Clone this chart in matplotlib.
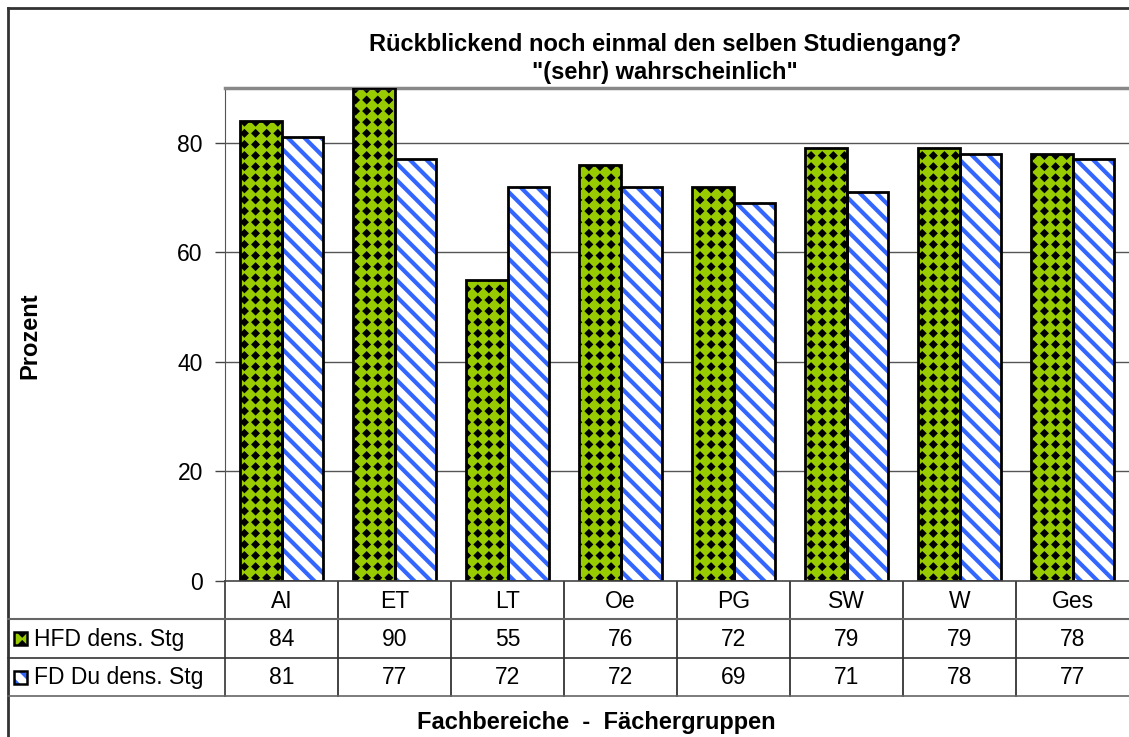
import matplotlib.pyplot as plt
import matplotlib.hatch as mhatch
from matplotlib.path import Path
import numpy as np

categories = ['AI', 'ET', 'LT', 'Oe', 'PG', 'SW', 'W', 'Ges']
series_names = ['HFD dens. Stg', 'FD Du dens. Stg']
hfd = [84, 90, 55, 76, 72, 79, 79, 78]
fddu = [81, 77, 72, 72, 69, 71, 78, 77]
y_ticks = [0, 20, 40, 60, 80]


# '.' hatch replaced by a square grid of filled diamonds (Excel "large confetti" look)
class DiamondGrid(mhatch.HatchPatternBase):
    def __init__(self, hatch, density):
        self.n = hatch.count('.') * 9
        self.num_vertices = (self.n + 1) ** 2 * 5 if self.n else 0

    def set_vertices_and_codes(self, vertices, codes):
        r = 0.14 / self.n
        diamond = np.array([[0, r], [r, 0], [0, -r], [-r, 0], [0, r]])
        k = 0
        for i in range(self.n + 1):
            for j in range(self.n + 1):
                vertices[k:k + 5] = diamond + [i / self.n, j / self.n]
                codes[k:k + 5] = [Path.MOVETO, Path.LINETO, Path.LINETO, Path.LINETO, Path.CLOSEPOLY]
                k += 5


mhatch._hatch_types = [DiamondGrid if h is mhatch.SmallFilledCircles else h for h in mhatch._hatch_types]

plt.rcParams['font.family'] = ['Liberation Sans', 'DejaVu Sans']
plt.rcParams['hatch.linewidth'] = 3.0

W, H = 1129, 737
fig = plt.figure(figsize=(W / 100, H / 100), dpi=100)

# pixel layout
px_left, px_right = 225, 1129
px_top, px_bottom = 88, 581
row_h = 38.3
fs = 16.5

ax = fig.add_axes([px_left / W, 1 - px_bottom / H, (px_right - px_left) / W, (px_bottom - px_top) / H])
n = len(categories)
x = np.arange(n)
bw = 0.37

ax.set_xlim(-0.5, n - 0.5)
ax.set_ylim(0, 90)
for t in y_ticks[1:]:
    ax.axhline(t, color='#555555', lw=1.0, zorder=0)

# green with black diamonds
ax.bar(x - bw / 2, hfd, bw, color='#99cc00', edgecolor='black', hatch='.', lw=0, zorder=2)
ax.bar(x - bw / 2, hfd, bw, fill=False, edgecolor='black', lw=2, zorder=3)
# white with blue diagonals
ax.bar(x + bw / 2, fddu, bw, color='white', edgecolor='#3366ff', hatch='\\\\', lw=0, zorder=2)
ax.bar(x + bw / 2, fddu, bw, fill=False, edgecolor='black', lw=2, zorder=3)

ax.set_yticks(y_ticks)
ax.set_yticklabels([str(t) for t in y_ticks], fontsize=fs)
ax.set_xticks([])
ax.tick_params(axis='y', length=7, width=1, color='#444444', pad=9)
for s in ['right', 'bottom']:
    ax.spines[s].set_visible(False)
ax.spines['top'].set_color('#888888')
ax.spines['top'].set_linewidth(2.5)
ax.spines['left'].set_color('#555555')
ax.axhline(0, color='#444444', lw=1.2, zorder=4, clip_on=False)

# overlay in pixel coordinates for table, frame and titles
ov = fig.add_axes([0, 0, 1, 1], zorder=-1)
ov.set_xlim(0, W)
ov.set_ylim(H, 0)
ov.axis('off')
ov.patch.set_alpha(0)

# outer frame
ov.plot([8, W], [8, 8], color='#333333', lw=2)
ov.plot([8, 8], [8, H], color='#333333', lw=2)

col_w = (px_right - px_left) / n
r0, r1, r2, r3 = px_bottom, px_bottom + row_h, px_bottom + 2 * row_h, px_bottom + 3 * row_h
ov.plot([px_left, px_left], [px_bottom, r3], color='#333333', lw=1.2)
for i in range(1, n):
    xl = px_left + i * col_w
    ov.plot([xl, xl], [r0, r3], color='#222222', lw=1.2)
ov.plot([8, W], [r1, r1], color='#666666', lw=1.5)
ov.plot([8, W], [r2, r2], color='#333333', lw=1.2)
ov.plot([8, W], [r3, r3], color='#666666', lw=1.2)

for i, c in enumerate(categories):
    xc = px_left + (i + 0.5) * col_w
    ov.text(xc, (r0 + r1) / 2 + 1, c, ha='center', va='center', fontsize=fs)
    ov.text(xc, (r1 + r2) / 2 + 1, str(hfd[i]), ha='center', va='center', fontsize=fs)
    ov.text(xc, (r2 + r3) / 2 + 1, str(fddu[i]), ha='center', va='center', fontsize=fs)

# legend keys in the table
for (ry, name, fc, ec, hatch) in [((r1 + r2) / 2, series_names[0], '#99cc00', 'black', '.'),
                                   ((r2 + r3) / 2, series_names[1], 'white', '#3366ff', '\\\\')]:
    ov.add_patch(plt.Rectangle((14, ry - 6), 13, 13, facecolor=fc, edgecolor=ec, hatch=hatch, lw=0))
    ov.add_patch(plt.Rectangle((14, ry - 6), 13, 13, fill=False, edgecolor='black', lw=1.8))
    ov.text(34, ry + 1, name, ha='left', va='center', fontsize=fs)

ov.text(665, 44, 'Rückblickend noch einmal den selben Studiengang?', ha='center', va='center',
        fontsize=17, fontweight='bold')
ov.text(665, 72, '"(sehr) wahrscheinlich"', ha='center', va='center', fontsize=17, fontweight='bold')
ov.text(30, 336, 'Prozent', ha='center', va='center', rotation=90, fontsize=17, fontweight='bold')
ov.text(596, 723, 'Fachbereiche  -  Fächergruppen', ha='center', va='center', fontsize=17, fontweight='bold')

fig.savefig('out.png', dpi=100)
